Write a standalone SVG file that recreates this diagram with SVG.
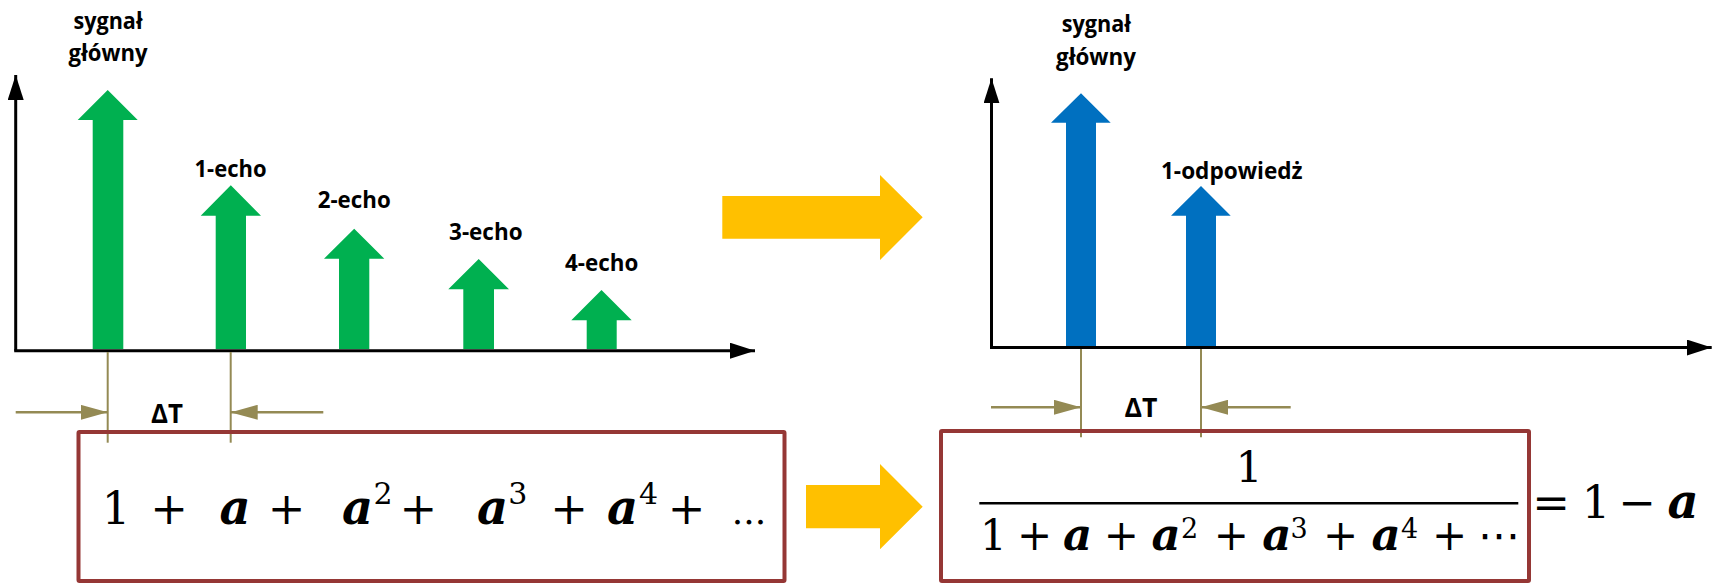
<svg xmlns="http://www.w3.org/2000/svg" width="1718" height="583" viewBox="0 0 1718 583">
<style>
.lbl{font-family:"Open Sans",Lato,"Liberation Sans",sans-serif;font-weight:bold;font-size:23px;fill:#000;text-anchor:middle}
.dt{font-family:"Open Sans",Lato,"Liberation Sans",sans-serif;font-weight:bold;font-size:26px;fill:#000;text-anchor:middle}
.m{font-family:"DejaVu Serif","Liberation Serif",serif;fill:#000;text-anchor:middle}
.a{font-weight:bold;font-style:italic}
.g{fill:#00B050}
.b{fill:#0070C0}
.o{fill:#FFC000}
.axis{stroke:#000;stroke-width:3;fill:none}
.dim{stroke:#948A54;stroke-width:2.5;fill:none}
.tick{stroke:#948A54;stroke-width:2;fill:none}
.box{fill:none;stroke:#953735;stroke-width:4}
</style>
<defs>
<marker id="ax" viewBox="0 0 25 16" refX="25" refY="8" markerWidth="25" markerHeight="16" markerUnits="userSpaceOnUse" orient="auto">
<path d="M0,0 L25,8 L0,16 Z" fill="#000"/>
</marker>
<marker id="dm" viewBox="0 0 27 15" refX="27" refY="7.5" markerWidth="27" markerHeight="15" markerUnits="userSpaceOnUse" orient="auto">
<path d="M0,0 L27,7.5 L0,15 Z" fill="#948A54"/>
</marker>
</defs>
<rect width="1718" height="583" fill="#fff"/>

<g id="connectors">
<line class="axis" x1="15.7" y1="350.7" x2="15.7" y2="75" marker-end="url(#ax)"/>
<line class="axis" x1="14.2" y1="350.7" x2="755" y2="350.7" marker-end="url(#ax)"/>
<line class="axis" x1="991.5" y1="347.5" x2="991.5" y2="78.3" marker-end="url(#ax)"/>
<line class="axis" x1="990" y1="347.5" x2="1711.7" y2="347.5" marker-end="url(#ax)"/>
<line class="tick" x1="107.7" y1="352" x2="107.7" y2="442.7"/>
<line class="tick" x1="230.7" y1="352" x2="230.7" y2="442.7"/>
<line class="dim" x1="15.7" y1="412.3" x2="107.7" y2="412.3" marker-end="url(#dm)"/>
<line class="dim" x1="323.3" y1="412.3" x2="230.7" y2="412.3" marker-end="url(#dm)"/>
<line class="tick" x1="1081" y1="349" x2="1081" y2="437.3"/>
<line class="tick" x1="1201" y1="349" x2="1201" y2="437.3"/>
<line class="dim" x1="991" y1="407.3" x2="1081" y2="407.3" marker-end="url(#dm)"/>
<line class="dim" x1="1290.7" y1="407.3" x2="1201" y2="407.3" marker-end="url(#dm)"/>
</g>

<g id="main-signal-left">
<polygon class="g" points="92.7,349 92.7,120 77.7,120 107.7,90 137.7,120 123.3,120 123.3,349"/>
<text class="lbl" x="108" y="29.3" textLength="69" lengthAdjust="spacingAndGlyphs">sygnał</text>
<text class="lbl" x="108" y="61.3" textLength="79" lengthAdjust="spacingAndGlyphs">główny</text>
</g>
<g id="echo-1">
<polygon class="g" points="215.7,349 215.7,215.7 200.7,215.7 230.8,185.3 261,215.7 246,215.7 246,349"/>
<text class="lbl" x="230.5" y="177.3" textLength="72" lengthAdjust="spacingAndGlyphs">1-echo</text>
</g>
<g id="echo-2">
<polygon class="g" points="339,349 339,258.7 324,258.7 354.2,228.7 384.3,258.7 369.3,258.7 369.3,349"/>
<text class="lbl" x="354.2" y="208.3" textLength="73" lengthAdjust="spacingAndGlyphs">2-echo</text>
</g>
<g id="echo-3">
<polygon class="g" points="463.3,349 463.3,289.3 448.3,289.3 478.7,259 509,289.3 494,289.3 494,349"/>
<text class="lbl" x="485.8" y="240" textLength="73.5" lengthAdjust="spacingAndGlyphs">3-echo</text>
</g>
<g id="echo-4">
<polygon class="g" points="586.7,349 586.7,320.3 571.3,320.3 601.5,290 631.7,320.3 616.7,320.3 616.7,349"/>
<text class="lbl" x="601.7" y="270.7" textLength="73.3" lengthAdjust="spacingAndGlyphs">4-echo</text>
</g>
<g id="dt-left">
<text class="dt" x="167" y="423" textLength="32" lengthAdjust="spacingAndGlyphs">ΔT</text>
</g>

<g id="arrow-top">
<polygon class="o" points="722.3,196 880,196 880,175 922.7,217.3 880,260 880,238.7 722.3,238.7"/>
</g>
<g id="arrow-bottom">
<polygon class="o" points="806,485 880,485 880,464 922.7,506.7 880,549.3 880,528.3 806,528.3"/>
</g>

<g id="main-signal-right">
<polygon class="b" points="1066,346 1066,122.7 1051,122.7 1081,93.3 1110.7,122.7 1096,122.7 1096,346"/>
<text class="lbl" x="1096.3" y="31.7" textLength="69.3" lengthAdjust="spacingAndGlyphs">sygnał</text>
<text class="lbl" x="1096" y="65" textLength="80" lengthAdjust="spacingAndGlyphs">główny</text>
</g>
<g id="response-1">
<polygon class="b" points="1186,346 1186,215.7 1171,215.7 1201,186 1230.7,215.7 1216,215.7 1216,346"/>
<text class="lbl" x="1231.8" y="179" textLength="141.7" lengthAdjust="spacingAndGlyphs">1-odpowiedż</text>
</g>
<g id="dt-right">
<text class="dt" x="1141" y="417.3" textLength="33" lengthAdjust="spacingAndGlyphs">ΔT</text>
</g>

<g id="series-box">
<rect class="box" x="78.5" y="432" width="706" height="149" rx="1"/>
<g class="m" font-size="45">
<text x="116" y="524">1</text>
<text x="169" y="524">+</text>
<text class="a" x="235" y="524" font-size="48">a</text>
<text x="286.7" y="524">+</text>
<text class="a" x="357.5" y="524" font-size="48">a</text>
<text x="418.3" y="524">+</text>
<text class="a" x="492.5" y="524" font-size="48">a</text>
<text x="569" y="524">+</text>
<text class="a" x="622.5" y="524" font-size="48">a</text>
<text x="686.5" y="524">+</text>
<text x="749" y="524" font-size="36">...</text>
</g>
<g class="m" font-size="30">
<text x="383" y="503.5">2</text>
<text x="517.8" y="503.5">3</text>
<text x="648.5" y="503.5">4</text>
</g>
</g>

<g id="fraction-box">
<rect class="box" x="941" y="431" width="588" height="150" rx="1"/>
<text class="m" font-size="42" x="1249" y="481.5">1</text>
<line x1="979.3" y1="503.3" x2="1518.3" y2="503.3" stroke="#000" stroke-width="2.5"/>
<g class="m" font-size="42">
<text x="993.3" y="550">1</text>
<text x="1034.7" y="550">+</text>
<text class="a" x="1077.5" y="550" font-size="45">a</text>
<text x="1121.3" y="550">+</text>
<text class="a" x="1166" y="550" font-size="45">a</text>
<text x="1231.3" y="550">+</text>
<text class="a" x="1276.8" y="550" font-size="45">a</text>
<text x="1340.5" y="550">+</text>
<text class="a" x="1386" y="550" font-size="45">a</text>
<text x="1449.7" y="550">+</text>
<text x="1499" y="550" font-family="DejaVu Sans,sans-serif">⋯</text>
</g>
<g class="m" font-size="27">
<text x="1189.5" y="538">2</text>
<text x="1299" y="538">3</text>
<text x="1409.5" y="538">4</text>
</g>
</g>

<g id="result">
<g class="m" font-size="45">
<text x="1551" y="518">=</text>
<text x="1596" y="518">1</text>
<text x="1637" y="518">−</text>
<text class="a" x="1683" y="518" font-size="48">a</text>
</g>
</g>
</svg>
